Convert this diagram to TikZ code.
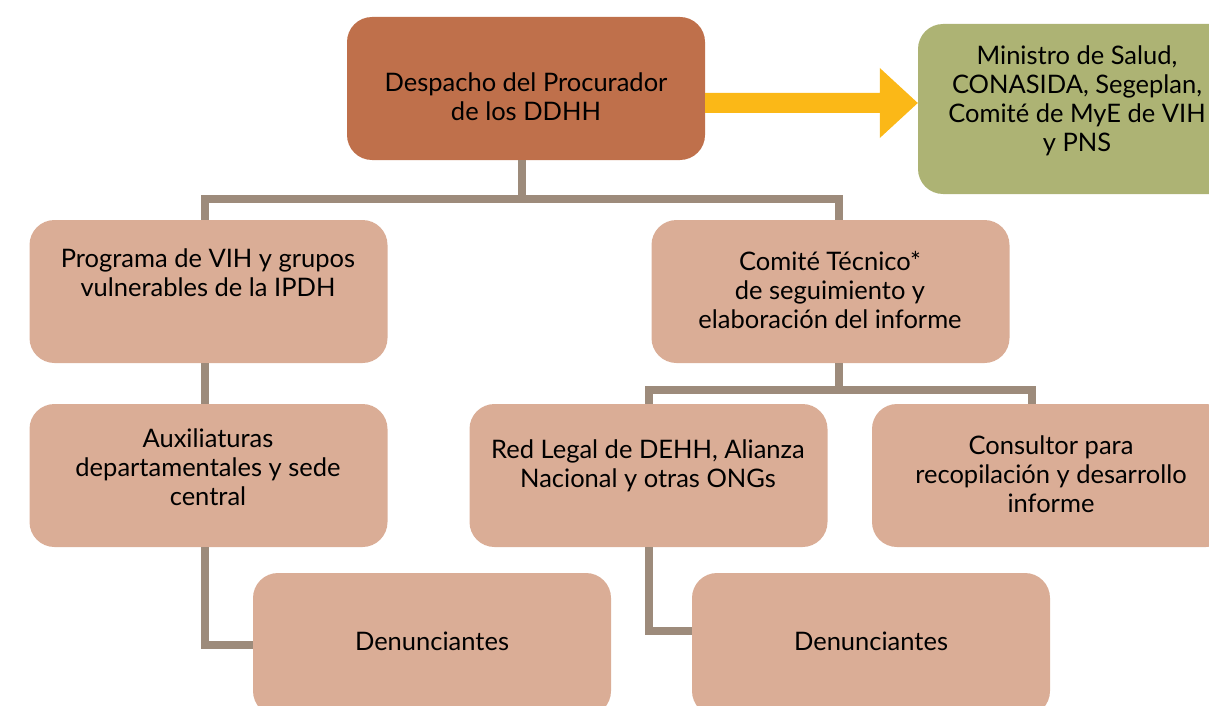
\documentclass[tikz,border=0pt]{standalone}
\usepackage{fontspec}
\setmainfont{Lato}
\definecolor{topc}{RGB}{191,112,75}
\definecolor{greenc}{RGB}{173,179,116}
\definecolor{peach}{RGB}{218,173,150}
\definecolor{connc}{RGB}{157,139,123}
\definecolor{arrowc}{RGB}{251,184,23}
\tikzset{
  box/.style={rounded corners=25pt, minimum width=358pt, minimum height=143pt, inner sep=0pt, draw=none},
  txt/.style={align=center, font=\fontsize{25.5}{29}\selectfont, text=black, inner sep=0pt},
  conn/.style={draw=connc, line width=8pt, line join=miter, line cap=butt}
}
\begin{document}
\begin{tikzpicture}[x=1pt,y=-1pt]
\clip (0,0) rectangle (1209,706);
% boxes
\node[box, fill=topc] (top) at (526,88.5) {};
\node[box, fill=greenc, minimum width=330pt, minimum height=170pt] (grn) at (1083,109) {};
\node[box, fill=peach] (prog) at (208.5,291.5) {};
\node[box, fill=peach] (comite) at (830.5,291.5) {};
\node[box, fill=peach] (aux) at (208.5,475.5) {};
\node[box, fill=peach] (red) at (648.5,475.5) {};
\node[box, fill=peach, minimum width=359pt] (cons) at (1051.5,475.5) {};
\node[box, fill=peach] (den1) at (432,644.5) {};
\node[box, fill=peach] (den2) at (871,644.5) {};
% junction coordinates
\coordinate (j1) at (522,199);
\coordinate (jL) at (205,199);
\coordinate (jR) at (839,199);
\coordinate (k) at (839,390);
\coordinate (kL) at (649,390);
\coordinate (kR) at (1032,390);
\coordinate (e2) at (649,631);
% connectors
\draw[conn] (j1 |- top.south) -- (j1);
\draw[conn] (jL |- prog.north) -- (jL) -- (jR) -- (jR |- comite.north);
\draw[conn] (jL |- prog.south) -- (jL |- aux.north);
\draw[conn] (jL |- aux.south) |- (den1.west);
\draw[conn] (k |- comite.south) -- (k);
\draw[conn] (kL |- red.north) -- (kL) -- (kR) -- (kR |- cons.north);
\draw[conn] (kL |- red.south) -- (e2) -- (e2 -| den2.west);
% arrow
\coordinate (a0) at (top.east |- 0,103);
\coordinate (a1) at (grn.west |- 0,103);
\fill[arrowc] ([yshift=10pt]a0) -- ([xshift=-38pt,yshift=10pt]a1) -- ([xshift=-38pt,yshift=35pt]a1) -- (a1) -- ([xshift=-38pt,yshift=-35pt]a1) -- ([xshift=-38pt,yshift=-10pt]a1) -- ([yshift=-10pt]a0) -- cycle;
% texts
\node[txt] (ttop) at (526,97) {Despacho del Procurador\\de los DDHH};
\node[txt] (tgrn) at (1077,101) {Ministro de Salud,\\CONASIDA, Segeplan,\\Comité de MyE de VIH\\y PNS};
\node[txt] (tprog) at (208,273) {Programa de VIH y grupos\\vulnerables de la IPDH};
\node[txt] (tcom) at (830,290) {Comité Técnico*\\de seguimiento y\\elaboración del informe};
\node[txt] (taux) at (208,467) {Auxiliaturas\\departamentales y sede\\central};
\node[txt] (tred) at (648,466) {Red Legal de DEHH, Alianza\\Nacional y otras ONGs};
\node[txt] (tcons) at (1051,474) {Consultor para\\recopilación y desarrollo\\informe};
\node[txt] (tden1) at (432,641) {Denunciantes};
\node[txt] (tden2) at (871,641) {Denunciantes};
\end{tikzpicture}
\end{document}
